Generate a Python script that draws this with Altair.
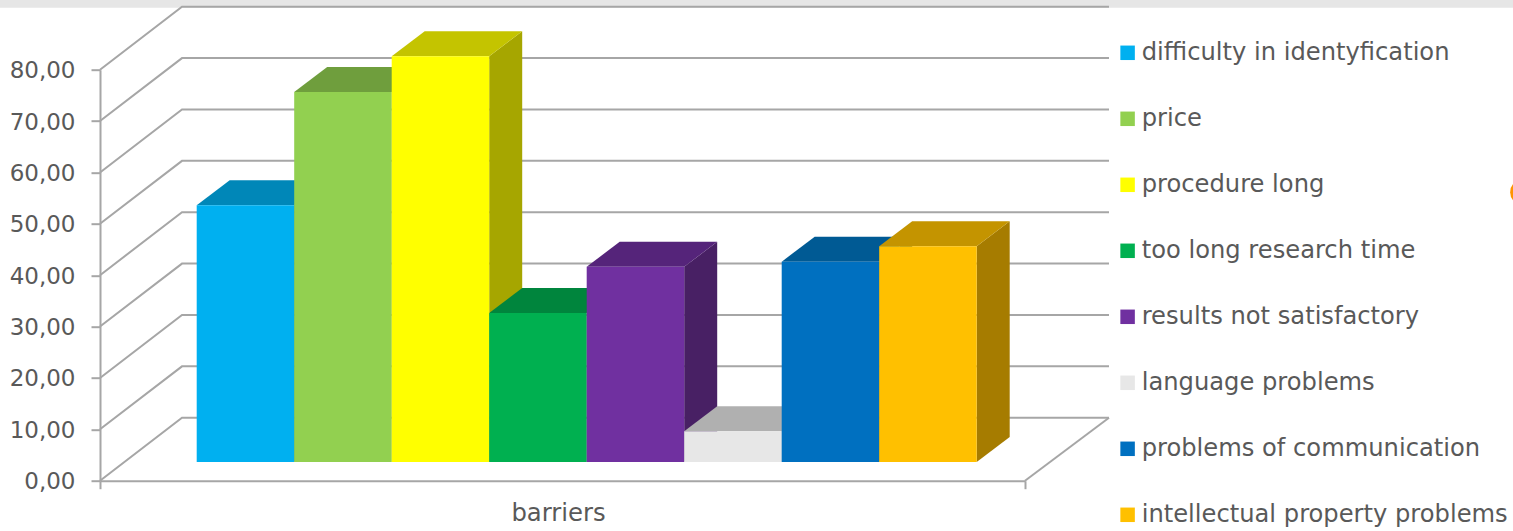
import altair as alt
import pandas as pd

# Survey results, one bar per barrier
categories = [
    "difficulty in identyfication",
    "price",
    "procedure long",
    "too long research time",
    "results not satisfactory",
    "language problems",
    "problems of communication",
    "intellectual property problems",
]
values = [50.0, 72.0, 79.0, 29.0, 38.0, 6.0, 39.0, 42.0]
front_colors = ["#00B0F0", "#92D050", "#FFFF00", "#00B050", "#7030A0", "#E7E7E7", "#0070C0", "#FFC000"]
top_colors = ["#0087B8", "#6F9E3D", "#C4C400", "#00853D", "#55247A", "#B0B0B0", "#005A94", "#C49400"]
side_colors = ["#007299", "#5F8734", "#A6A600", "#007333", "#482064", "#969696", "#004A7D", "#A67C00"]
y_ticks = [0, 10, 20, 30, 40, 50, 60, 70, 80]

# Oblique projection, in axis units: one x unit is one bar width
PLOT_W, PLOT_H = 925, 411
UNIT_X, UNIT_Y = 97.5, 5.14
X_END = PLOT_W / UNIT_X
WALL_DX, WALL_DY = 82 / UNIT_X, 63 / UNIT_Y
WALL_DX_RIGHT = 84 / UNIT_X
BAR_X0, BAR_BASE = 96.7 / UNIT_X, 18.7 / UNIT_Y
BAR_DX, BAR_DY = 33 / UNIT_X, 25 / UNIT_Y

GRID = "#A6A6A6"
TEXT = "#595959"
FONT = "DejaVu Sans"

x_scale = alt.Scale(domain=[0, X_END], nice=False, zero=False)
y_scale = alt.Scale(domain=[0, 80], nice=False, zero=False)

x_axis = alt.Axis(
    values=[0, X_END], labels=False, grid=False, title="barriers",
    titleX=458, titleY=33, titleFont=FONT, titleFontSize=24.3,
    titleFontWeight="normal", titleColor=TEXT, titleBaseline="middle",
    tickColor=GRID, tickWidth=2, tickSize=8, domainColor=GRID, domainWidth=2,
)
y_axis = alt.Axis(
    values=y_ticks, grid=False, title=None,
    labelExpr="replace(format(datum.value, '.2f'), '.', ',')",
    labelFont=FONT, labelFontSize=23, labelColor=TEXT, labelPadding=16, labelOffset=1,
    tickColor=GRID, tickWidth=2, tickSize=9, domainColor=GRID, domainWidth=2,
)

# Wall and floor lines
wall_rows = []
for v in y_ticks:
    wall_rows += [
        {"line": f"g{v}", "x": 0, "y": v},
        {"line": f"g{v}", "x": WALL_DX, "y": v + WALL_DY},
        {"line": f"g{v}", "x": X_END + WALL_DX_RIGHT, "y": v + WALL_DY},
    ]
wall_rows += [
    {"line": "floor", "x": X_END, "y": 0},
    {"line": "floor", "x": X_END + WALL_DX_RIGHT, "y": WALL_DY},
]
walls = (
    alt.Chart(pd.DataFrame(wall_rows))
    .mark_line(color=GRID, strokeWidth=2, clip=False)
    .encode(
        x=alt.X("x:Q", scale=x_scale, axis=x_axis),
        y=alt.Y("y:Q", scale=y_scale, axis=y_axis),
        detail="line:N",
    )
)

# Bar faces
fronts, sides, tops = [], [], []
for i, (name, v) in enumerate(zip(categories, values)):
    x0, x1 = BAR_X0 + i, BAR_X0 + i + 1
    y0, y1 = BAR_BASE, BAR_BASE + v
    fronts.append({"name": name, "x0": x0, "x1": x1, "y0": y0, "y1": y1})
    sides += [
        {"name": name, "fill": side_colors[i], "x": x1, "top": y1, "bottom": y0},
        {"name": name, "fill": side_colors[i], "x": x1 + BAR_DX, "top": y1 + BAR_DY, "bottom": y0 + BAR_DY},
    ]
    tops += [
        {"name": name, "fill": top_colors[i], "y": y1, "left": x0, "right": x1},
        {"name": name, "fill": top_colors[i], "y": y1 + BAR_DY, "left": x0 + BAR_DX, "right": x1 + BAR_DX},
    ]

side_faces = (
    alt.Chart(pd.DataFrame(sides))
    .mark_area(orient="vertical", clip=False, opacity=1)
    .encode(
        x=alt.X("x:Q", scale=x_scale, axis=x_axis),
        y=alt.Y("top:Q", scale=y_scale, axis=y_axis),
        y2="bottom:Q",
        fill=alt.Fill("fill:N", scale=None),
        detail="name:N",
    )
)

top_faces = (
    alt.Chart(pd.DataFrame(tops))
    .mark_area(orient="horizontal", clip=False, opacity=1)
    .encode(
        y=alt.Y("y:Q", scale=y_scale, axis=y_axis),
        x=alt.X("left:Q", scale=x_scale, axis=x_axis),
        x2="right:Q",
        fill=alt.Fill("fill:N", scale=None),
        detail="name:N",
    )
)

front_faces = (
    alt.Chart(pd.DataFrame(fronts))
    .mark_rect(clip=False)
    .encode(
        x=alt.X("x0:Q", scale=x_scale, axis=x_axis),
        x2="x1:Q",
        y=alt.Y("y0:Q", scale=y_scale, axis=y_axis),
        y2="y1:Q",
        color=alt.Color(
            "name:N",
            scale=alt.Scale(domain=categories, range=front_colors),
            legend=alt.Legend(
                title=None, orient="none", legendX=1015.5, legendY=-29,
                symbolType="square", symbolSize=210, symbolStrokeWidth=0, symbolOpacity=1,
                labelFont=FONT, labelFontSize=24.2, labelColor=TEXT,
                labelOffset=2, labelLimit=500, rowPadding=41, padding=0,
            ),
        ),
    )
)

# Page furniture: grey strip along the top and an orange dot cut by the right edge
strip = (
    alt.Chart(pd.DataFrame({"k": [0]}))
    .mark_rect(color="#E6E6E6")
    .encode(x=alt.value(-100), x2=alt.value(1413), y=alt.value(-70), y2=alt.value(-62))
)
dot = (
    alt.Chart(pd.DataFrame({"k": [0]}))
    .mark_point(filled=True, color="#FF9400", opacity=1, size=660, clip=False)
    .encode(x=alt.value(1423), y=alt.value(122.5))
)

chart = (
    alt.layer(strip, walls, side_faces, top_faces, front_faces, dot)
    .properties(
        width=PLOT_W,
        height=PLOT_H,
        autosize=alt.AutoSizeParams(type="none"),
        padding={"left": 100, "top": 69.7, "right": 488, "bottom": 50.3},
        background="white",
    )
    .configure_view(stroke=None)
)

chart.save("out.html", embed_options={"renderer": "svg", "actions": False})
